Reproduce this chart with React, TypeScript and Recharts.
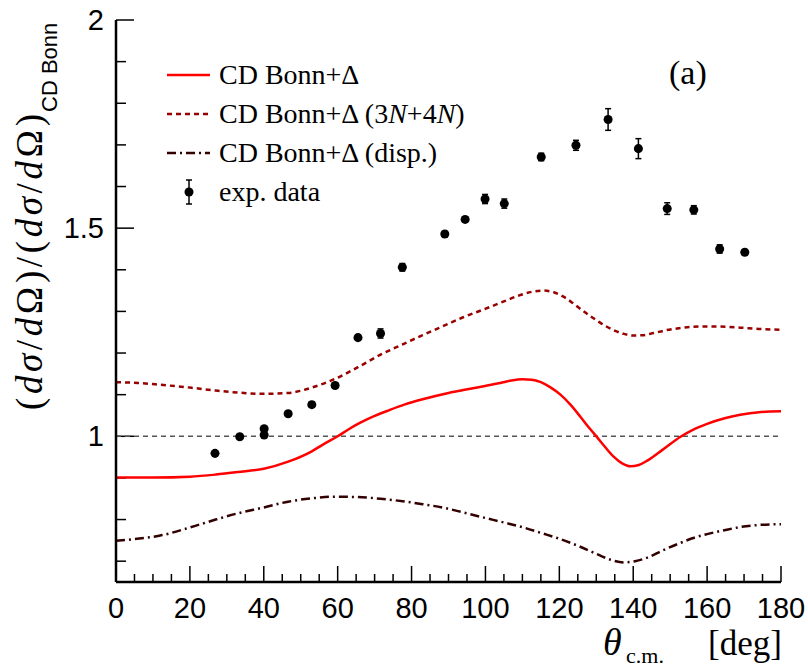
import React from 'react';
import { ComposedChart, Line, Scatter, XAxis, YAxis, ReferenceLine, ErrorBar } from 'recharts';

// CD Bonn+Δ (solid)
const solidTheta = [0, 10, 20, 27, 33, 40, 46.6, 53, 56, 60, 63, 66, 70, 74, 78, 83, 89.4, 94, 99.9, 104, 107, 110, 112.5, 115, 117.5, 120.3, 123, 125.7, 128, 130.2, 132.5, 134.7, 137, 139.2, 141.5, 143.7, 148, 152.8, 156, 160, 165, 169, 174, 180];
const solidVal = [0.901, 0.901, 0.903, 0.908, 0.914, 0.922, 0.939, 0.964, 0.98, 1.0, 1.017, 1.032, 1.049, 1.063, 1.076, 1.089, 1.103, 1.111, 1.121, 1.128, 1.134, 1.137, 1.136, 1.13, 1.118, 1.1, 1.076, 1.047, 1.021, 0.998, 0.973, 0.951, 0.935, 0.928, 0.931, 0.941, 0.968, 0.999, 1.015, 1.03, 1.044, 1.052, 1.058, 1.06];

// CD Bonn+Δ (3N+4N) (dashed)
const threeNTheta = [0, 6, 11.7, 20, 27, 33, 40, 46.6, 53, 59.3, 65.5, 71.6, 77.6, 83, 89.4, 94, 99.9, 105, 109, 112.5, 115.7, 118.5, 121, 123.5, 125.7, 128, 130.2, 132.5, 134.7, 137.5, 140.1, 142.8, 145.5, 149, 152.8, 156, 160, 165, 169, 174, 180];
const threeNVal = [1.13, 1.128, 1.124, 1.117, 1.11, 1.105, 1.102, 1.104, 1.117, 1.138, 1.166, 1.196, 1.221, 1.243, 1.268, 1.286, 1.306, 1.324, 1.338, 1.347, 1.35, 1.346, 1.336, 1.321, 1.306, 1.291, 1.278, 1.265, 1.255, 1.246, 1.242, 1.243, 1.248, 1.255, 1.26, 1.263, 1.264, 1.263, 1.261, 1.258, 1.256];

// CD Bonn+Δ (disp.) (dash-dot)
const dispTheta = [0, 5, 11.7, 20, 27, 33, 40, 46.6, 53, 59.3, 65.5, 71.6, 77.6, 83, 89.4, 94, 99.9, 105, 110.3, 115, 120.3, 125, 130.2, 134, 137.4, 140.5, 143.7, 148, 152.8, 156, 160, 165, 169, 174, 180];
const dispVal = [0.749, 0.753, 0.761, 0.781, 0.8, 0.815, 0.829, 0.843, 0.851, 0.855, 0.854, 0.85, 0.844, 0.837, 0.827, 0.817, 0.804, 0.793, 0.781, 0.768, 0.753, 0.737, 0.717, 0.703, 0.697, 0.7, 0.708, 0.726, 0.744, 0.755, 0.765, 0.775, 0.782, 0.787, 0.789];

// experimental data
const expTheta = [26.8, 33.5, 40.1, 40.1, 46.6, 53.0, 59.3, 65.5, 71.6, 77.5, 89.0, 94.5, 99.9, 105.1, 115.1, 124.5, 133.2, 141.4, 149.2, 156.4, 163.4, 170.2];
const expVal = [0.959, 0.999, 1.018, 1.003, 1.054, 1.076, 1.122, 1.237, 1.247, 1.406, 1.486, 1.521, 1.57, 1.559, 1.671, 1.699, 1.761, 1.691, 1.547, 1.544, 1.45, 1.442];
const expErr = [0.005, 0.005, 0.005, 0.005, 0.005, 0.006, 0.006, 0.006, 0.011, 0.009, 0.006, 0.006, 0.011, 0.011, 0.009, 0.012, 0.026, 0.024, 0.014, 0.01, 0.01, 0.006];

const xMajorTicks = [0, 20, 40, 60, 80, 100, 120, 140, 160, 180];
const xMinorTicks = [5, 10, 15, 25, 30, 35, 45, 50, 55, 65, 70, 75, 85, 90, 95, 105, 110, 115, 125, 130, 135, 145, 150, 155, 165, 170, 175];
const yMajorTicks = [1, 1.5, 2];
const yMinorTicks = [0.7, 0.8, 0.9, 1.1, 1.2, 1.3, 1.4, 1.6, 1.7, 1.8, 1.9];

const legendLabels = ['CD Bonn+Δ', 'exp. data'];

const X_MIN = 0, X_MAX = 180, Y_MIN = 0.65, Y_MAX = 2;
// tick lengths expressed in data units of the opposite axis (scaled through Recharts)
const PX_PER_Y = 562 / (Y_MAX - Y_MIN);
const PX_PER_X = 665 / (X_MAX - X_MIN);
const xMajLen = 16 / PX_PER_Y, xMinLen = 8 / PX_PER_Y;
const yMajLen = 18 / PX_PER_X, yMinLen = 10 / PX_PER_X;

const toPts = (xs: number[], ys: number[]) => xs.map((x, i) => ({ x, y: ys[i] }));
const solidData = toPts(solidTheta, solidVal);
const threeNData = toPts(threeNTheta, threeNVal);
const dispData = toPts(dispTheta, dispVal);
const expData = expTheta.map((x, i) => ({ x, y: expVal[i], err: expErr[i] }));

const SANS = '"Liberation Sans", Arial, Helvetica, sans-serif';
const SERIF = '"Liberation Serif", "Times New Roman", serif';
const RED = '#ff0000';
const DARKRED = '#990000';
const BROWN = '#330000';

const XLabelTick = (p: any) => (
  <text x={p.x} y={p.y + 36} textAnchor="middle" fontSize={29} fontFamily={SANS} fill="#000">{p.payload.value}</text>
);
const YLabelTick = (p: any) => (
  <text x={p.x - 12} y={p.y + 10} textAnchor="end" fontSize={29} fontFamily={SANS} fill="#000">{String(p.payload.value)}</text>
);

const tickSeg = { stroke: '#000', strokeWidth: 1.5 };

export default function App() {
  return (
    <div style={{ position: 'absolute', left: 0, top: 0, width: 808, height: 668, background: '#fff' }}>
      <ComposedChart width={808} height={668} margin={{ top: 20, right: 27, left: 0, bottom: 0 }}>
        <XAxis type="number" dataKey="x" domain={[X_MIN, X_MAX]} ticks={xMajorTicks} interval={0}
          height={86} tickSize={0} tickMargin={0} tick={<XLabelTick />}
          axisLine={{ stroke: '#000', strokeWidth: 2.5 }} tickLine={false} allowDataOverflow />
        <XAxis xAxisId="top" orientation="top" type="number" dataKey="x" domain={[X_MIN, X_MAX]} height={0}
          tick={false} tickLine={false} axisLine={{ stroke: '#222', strokeWidth: 1.5 }} allowDataOverflow />
        <YAxis type="number" domain={[Y_MIN, Y_MAX]} ticks={yMajorTicks} interval={0} width={116}
          tickSize={0} tickMargin={0} tick={<YLabelTick />}
          axisLine={{ stroke: '#000', strokeWidth: 2.5 }} tickLine={false} allowDataOverflow />
        <YAxis yAxisId="right" orientation="right" type="number" domain={[Y_MIN, Y_MAX]} width={0}
          tick={false} tickLine={false} axisLine={{ stroke: '#222', strokeWidth: 1.5 }} allowDataOverflow />
        {xMajorTicks.map((t) => (
          <ReferenceLine key={'xM' + t} segment={[{ x: t, y: Y_MIN }, { x: t, y: Y_MIN + xMajLen }]} {...tickSeg} ifOverflow="visible" />
        ))}
        {xMinorTicks.map((t) => (
          <ReferenceLine key={'xm' + t} segment={[{ x: t, y: Y_MIN }, { x: t, y: Y_MIN + xMinLen }]} {...tickSeg} ifOverflow="visible" />
        ))}
        {yMajorTicks.map((t) => (
          <ReferenceLine key={'yM' + t} segment={[{ x: X_MIN, y: t }, { x: X_MIN + yMajLen, y: t }]} {...tickSeg} ifOverflow="visible" />
        ))}
        {yMinorTicks.map((t) => (
          <ReferenceLine key={'ym' + t} segment={[{ x: X_MIN, y: t }, { x: X_MIN + yMinLen, y: t }]} {...tickSeg} ifOverflow="visible" />
        ))}
        <ReferenceLine y={1} stroke="#555" strokeWidth={1.5} strokeDasharray="5 4" />
        <Line data={dispData} dataKey="y" type="monotone" stroke={BROWN} strokeWidth={2.5}
          strokeDasharray="9 4 2 4" dot={false} isAnimationActive={false} />
        <Line data={threeNData} dataKey="y" type="monotone" stroke={DARKRED} strokeWidth={2.5}
          strokeDasharray="5 4" dot={false} isAnimationActive={false} />
        <Line data={solidData} dataKey="y" type="monotone" stroke={RED} strokeWidth={2.5}
          dot={false} isAnimationActive={false} />
        <Scatter data={expData} dataKey="y" fill="#000" shape="circle" isAnimationActive={false}>
          <ErrorBar dataKey="err" direction="y" width={3} stroke="#000" strokeWidth={1.5} />
        </Scatter>
      </ComposedChart>
      <svg width={808} height={668} style={{ position: 'absolute', left: 0, top: 0, pointerEvents: 'none' }}>
        {/* legend */}
        <line x1={167} x2={210} y1={75} y2={75} stroke={RED} strokeWidth={2.5} />
        <text x={219} y={84} style={{ fontFamily: SERIF }} fontSize={28} fill="#000">{legendLabels[0]}</text>
        <line x1={167} x2={210} y1={114} y2={114} stroke={DARKRED} strokeWidth={2.5} strokeDasharray="5 4" />
        <text x={219} y={123} style={{ fontFamily: SERIF }} fontSize={28} fill="#000">
          {legendLabels[0]} (3<tspan fontStyle="italic">N</tspan>+4<tspan fontStyle="italic">N</tspan>)
        </text>
        <line x1={167} x2={210} y1={153} y2={153} stroke={BROWN} strokeWidth={2.5} strokeDasharray="9 4 2 4" />
        <text x={219} y={162} style={{ fontFamily: SERIF }} fontSize={28} fill="#000">{legendLabels[0]} (disp.)</text>
        <line x1={189} x2={189} y1={180} y2={204} stroke="#000" strokeWidth={1.5} />
        <line x1={186} x2={192} y1={180} y2={180} stroke="#000" strokeWidth={1.5} />
        <line x1={186} x2={192} y1={204} y2={204} stroke="#000" strokeWidth={1.5} />
        <circle cx={189} cy={192} r={4.5} fill="#000" />
        <text x={219} y={201} style={{ fontFamily: SERIF }} fontSize={28} fill="#000">{legendLabels[1]}</text>
        {/* panel label */}
        <text x={669} y={84} style={{ fontFamily: SERIF }} fontSize={34} fill="#000">(a)</text>
        {/* x axis title */}
        <text y={655} style={{ fontFamily: SERIF }} fill="#000">
          <tspan x={603} fontSize={38} fontStyle="italic">θ</tspan>
          <tspan x={626} dy={8} fontSize={22}>c.m.</tspan>
          <tspan x={708} dy={-8} fontSize={35}>[deg]</tspan>
        </text>
        {/* y axis title */}
        <g transform="translate(42,410) rotate(-90)">
          <text x={0} y={0} style={{ fontFamily: SERIF }} fontSize={37} fill="#000" textLength={296} lengthAdjust="spacing">
            (<tspan fontStyle="italic">d</tspan><tspan fontStyle="italic">σ</tspan>/<tspan fontStyle="italic">d</tspan>Ω)/(<tspan fontStyle="italic">d</tspan><tspan fontStyle="italic">σ</tspan>/<tspan fontStyle="italic">d</tspan>Ω)
          </text>
        </g>
        <g transform="translate(57,112) rotate(-90)">
          <text x={0} y={0} style={{ fontFamily: SANS }} fontSize={22} fill="#000">CD Bonn</text>
        </g>
      </svg>
    </div>
  );
}
